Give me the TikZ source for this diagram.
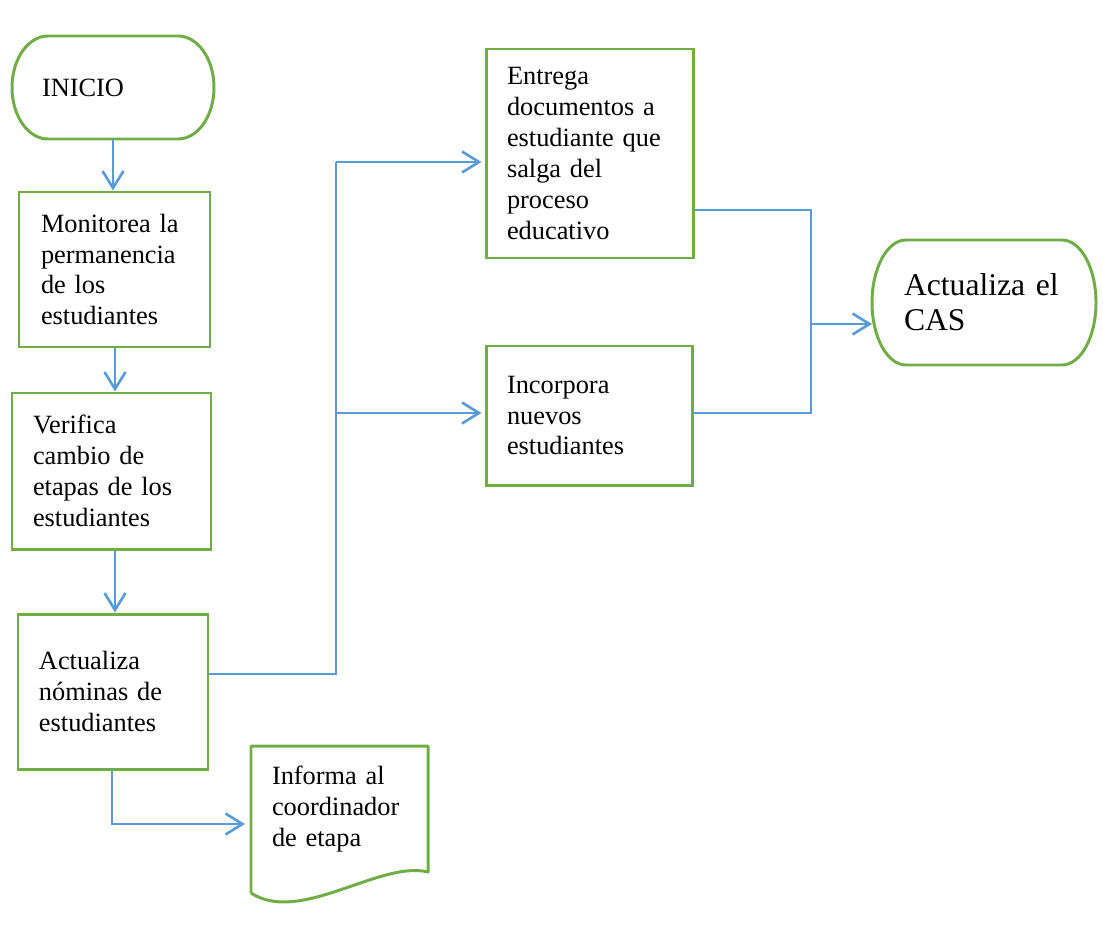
\documentclass[tikz,border=0pt]{standalone}
\usepackage{fontspec}
\setmainfont{Liberation Serif}
\usetikzlibrary{arrows.meta,calc}
\definecolor{BoxClr}{HTML}{70AD47}
\definecolor{ArrowClr}{HTML}{5B9BD5}
\newcommand\DrawTerminal[3]{%
  \draw[BoxClr,line width=1.7pt]
    ([xshift=#2]#1.north west) -- ([xshift=-#2]#1.north east)
    arc[start angle=90,end angle=-90,x radius=#2,y radius=#3]
    -- ([xshift=#2]#1.south west)
    arc[start angle=270,end angle=90,x radius=#2,y radius=#3] -- cycle;}

\begin{document}
\begin{tikzpicture}[
  Paso/.style={draw=BoxClr,line width=1.7pt,align=left,inner sep=0pt,
    font=\fontsize{15}{17.6}\selectfont},
  Terminal/.style={Paso,draw=none,outer sep=0pt},
  Flecha/.style={ArrowClr,line width=1.5pt,
    -{Straight Barb[length=3.4mm,width=4.2mm,line width=1.5pt]}},
  Linea/.style={ArrowClr,line width=.9pt}]
\useasboundingbox (0,0) rectangle (22.06,-18.88);

\node[Terminal,minimum width=4.04cm,minimum height=2.06cm,text width=2.84cm]
  (inicio) at (2.26,-1.75) {INICIO};
\DrawTerminal{inicio}{.72cm}{1.03cm}
\node[Paso,minimum width=3.82cm,minimum height=3.10cm,text width=2.94cm]
  (monitorea) at (2.29,-5.39) {Monitorea la\\permanencia\\de los\\estudiantes};
\node[Paso,minimum width=3.98cm,minimum height=3.12cm,text width=3.14cm]
  (verifica) at (2.23,-9.42) {Verifica\\cambio de\\etapas de los\\estudiantes};
\node[Paso,minimum width=3.80cm,minimum height=3.10cm,text width=2.96cm]
  (actualiza) at (2.26,-13.83) {Actualiza\\nóminas de\\estudiantes};
\node[Paso,minimum width=4.14cm,minimum height=4.18cm,text width=3.30cm]
  (entrega) at (11.79,-3.07) {Entrega\\documentos a\\estudiante que\\salga del\\proceso\\educativo};
\node[Paso,minimum width=4.12cm,minimum height=2.78cm,text width=3.28cm]
  (incorpora) at (11.78,-8.31) {Incorpora\\nuevos\\estudiantes};
\node[Terminal,minimum width=4.48cm,minimum height=2.50cm,text width=3.20cm,
  font=\fontsize{18}{19.9}\selectfont]
  (cas) at (19.68,-6.05) {Actualiza el\\CAS};
\DrawTerminal{cas}{.68cm}{1.25cm}
\node[Terminal,minimum width=3.54cm,minimum height=2.52cm,text width=2.70cm]
  (informa) at (6.79,-16.18) {Informa al\\coordinador\\de etapa};
\draw[BoxClr,line width=1.7pt,line join=round]
  ($(informa.south west)+(0,-.42)$) -- (informa.north west) -- (informa.north east)
  -- (informa.south east)
  .. controls ($(informa.south east)+(-.96,.24)$) and ($(informa.south east)+(-2.56,-1.06)$)
  .. ($(informa.south west)+(0,-.42)$);

\coordinate (bifurca) at (6.72,0);
\coordinate (reune) at (16.22,0);

\draw[Flecha] (inicio.south) -- (inicio.south |- monitorea.north);
\draw[Flecha] ([xshift=.01cm]monitorea.south) -- ([xshift=.01cm]monitorea.south |- verifica.north);
\draw[Flecha] ([xshift=.07cm]verifica.south) -- ([xshift=.07cm]verifica.south |- actualiza.north);

\draw[Linea] ([yshift=.35cm]actualiza.east) -| ($(bifurca |- entrega.west)+(0,-.17)$);
\draw[Flecha] ($(bifurca |- entrega.west)+(0,-.17)$) -- ([xshift=-.06cm,yshift=-.17cm]entrega.west);
\draw[Flecha] ($(bifurca |- incorpora.west)+(0,.05)$) -- ([xshift=-.06cm,yshift=.05cm]incorpora.west);

\draw[Linea] ([yshift=-1.13cm]entrega.east) -| ($(reune |- incorpora.east)+(0,.05)$)
  -- ([yshift=.05cm]incorpora.east);
\draw[Flecha] ($(reune |- cas.west)+(0,-.43)$) -- ([yshift=-.43cm]cas.west);

\draw[Flecha] ([xshift=-.02cm]actualiza.south) |- ([xshift=-.12cm,yshift=-.3cm]informa.west);
\end{tikzpicture}
\end{document}
